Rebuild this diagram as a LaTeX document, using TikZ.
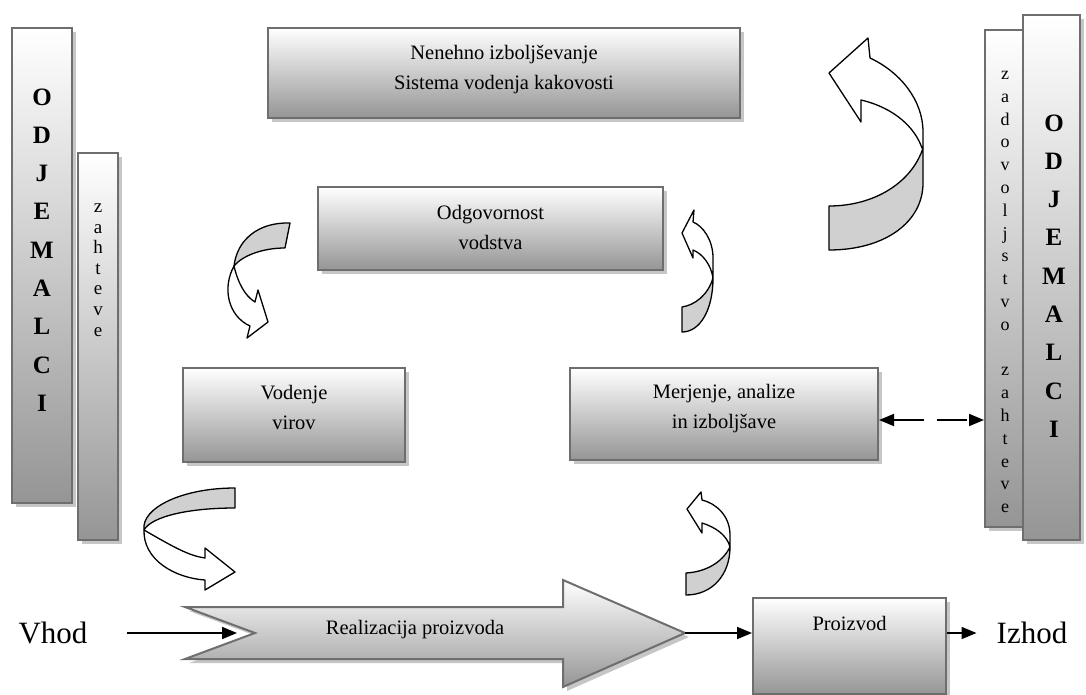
\documentclass[tikz,border=0pt]{standalone}
\usepackage{fontspec}
\setmainfont{Liberation Serif}
\usetikzlibrary{arrows.meta,shadows,calc}
\definecolor{bordergray}{HTML}{6E6E6E}
\definecolor{gradbottom}{HTML}{959595}
\definecolor{shadowgray}{HTML}{C6C6C6}
\definecolor{ribbon}{HTML}{D0D0D0}
\tikzset{
  gshadow/.style={drop shadow={shadow xshift=4pt,shadow yshift=-4pt,fill=shadowgray,opacity=1}},
  gbox/.style={draw=bordergray,line width=2pt,top color=white,bottom color=gradbottom,gshadow,inner sep=0pt},
  lbl/.style={font=\fontsize{20.5}{30}\selectfont,align=center,inner sep=0pt},
  big/.style={font=\fontsize{31}{36}\selectfont,inner sep=0pt},
  vbold/.style={font=\fontsize{25}{38.3}\selectfont\bfseries,align=center,inner sep=0pt},
  vsmall/.style={font=\fontsize{19}{20.6}\selectfont,align=center,inner sep=0pt},
  conn/.style={line width=1.8pt,-{Triangle[length=15pt,width=12pt]}},
  rib/.style={draw=black,line width=1.3pt,line join=round},
  ribgray/.style={rib,fill=ribbon},
  ribwhite/.style={rib,fill=white},
}
\begin{document}
\begin{tikzpicture}[x=1pt,y=-1pt]
\useasboundingbox (0,0) rectangle (1086,695);

% left columns
\node[gbox,minimum width=60pt,minimum height=475pt] (lwide) at (42,265.5) {};
\node[gbox,minimum width=40pt,minimum height=387pt] (lnar) at (98,346.5) {};
\node[vbold] (lodj) at (42,250) {O\\D\\J\\E\\M\\A\\L\\C\\I};
\node[vsmall] (lzah) at (98,270) {z\\a\\h\\t\\e\\v\\e};

% right columns
\node[gbox,minimum width=38pt,minimum height=497pt] (rnar) at (1004,278.5) {};
\node[gbox,minimum width=57pt,minimum height=525pt] (rwide) at (1051.5,277.5) {};
\node[vsmall,font=\fontsize{18}{22.8}\selectfont] (rzad) at (1005,292) {z\\a\\d\\o\\v\\o\\l\\j\\s\\t\\v\\o\\[22.8pt]z\\a\\h\\t\\e\\v\\e};
\node[vbold] (rodj) at (1054,276) {O\\D\\J\\E\\M\\A\\L\\C\\I};

% boxes
\node[gbox,minimum width=472pt,minimum height=90pt] (nen) at (504,73) {};
\node[lbl] (nent) at (504,70) {Nenehno izboljševanje\\Sistema vodenja kakovosti};
\node[gbox,minimum width=345pt,minimum height=83pt] (odg) at (490.5,228.5) {};
\node[lbl] (odgt) at (490.5,227) {Odgovornost\\vodstva};
\node[gbox,minimum width=222pt,minimum height=94pt] (vod) at (294,415) {};
\node[lbl] (vodt) at (294,407) {Vodenje\\virov};
\node[gbox,minimum width=308pt,minimum height=92pt] (merj) at (724,414) {};
\node[lbl] (merjt) at (724,409) {Merjenje, analize\\in izboljšave};
\node[gbox,minimum width=193pt,minimum height=96pt] (proz) at (849.5,646) {};
\node[lbl] (prozt) at (849.5,623) {Proizvod};

% main arrow
\path[draw=bordergray,line width=2pt,top color=white,bottom color=gradbottom,gshadow,line join=miter]
  (185,607) -- (255,633) -- (185,659) -- (563,659) -- (563,687) -- (685,633) -- (563,580) -- (563,607) -- cycle;
\coordinate (notch) at (255,633);
\coordinate (tip) at (685,633);
\node[lbl] (real) at (415,630) {Realizacija proizvoda};

% in / out
\node[big] (vhod) at (53,633) {Vhod};
\node[big] (izhod) at (1032,633) {Izhod};
\draw[conn] ([xshift=39pt]vhod.east) -- ([xshift=-18pt]notch);
\draw[conn] (tip) -- (tip -| proz.west);
\draw[conn] (tip -| proz.east) -- ([xshift=-20pt]izhod.west);
\draw[line width=1.8pt,dash pattern=on 30pt off 13pt,{Triangle[length=15pt,width=12pt]}-{Triangle[length=15pt,width=12pt]}]
  ([yshift=-6pt]merj.east) -- ([yshift=-6pt]merj.east -| rnar.west);

% curved arrow A1 (top right, big)
\path[ribwhite] (922,148) .. controls (915,128) and (895,108) .. (861,100) -- (861,122) -- (829,73) -- (868,38) -- (870,58)
  .. controls (900,72) and (923,100) .. (923,132) -- (923,148) -- cycle;
\path[ribgray] (829,206) -- (829,250) .. controls (885,250) and (923,222) .. (923,183) -- (923,148)
  .. controls (912,182) and (875,206) .. (829,206) -- cycle;

% curved arrow A2 (left of Odgovornost)
\path[ribgray] (290,223) -- (285,248) .. controls (262,248) and (242,256) .. (234,266)
  .. controls (237,240) and (258,222) .. (290,223) -- cycle;
\path[ribwhite] (234,266) .. controls (238,283) and (245,296) .. (255,302) -- (258,290) -- (268,322) -- (247,338) -- (250,326)
  .. controls (228,316) and (222,288) .. (234,266) -- cycle;

% curved arrow A3 (right of Odgovornost)
\path[ribgray] (682,307) -- (682,332) .. controls (700,332) and (713,310) .. (713,278)
  .. controls (708,295) and (695,305) .. (682,307) -- cycle;
\path[ribwhite] (713,278) -- (713,258) .. controls (713,240) and (703,226) .. (693,222) -- (694,210) -- (682,233) -- (693,258) -- (693,250)
  .. controls (703,254) and (711,265) .. (713,278) -- cycle;

% curved arrow A4 (above Proizvod)
\path[ribgray] (686,573) -- (686,595) .. controls (712,595) and (730,575) .. (730,547)
  .. controls (722,563) and (705,572) .. (686,573) -- cycle;
\path[ribwhite] (730,547) -- (730,535) .. controls (730,515) and (715,503) .. (702,500) -- (701,492) -- (687,509) -- (702,533) -- (702,523)
  .. controls (715,527) and (727,535) .. (730,547) -- cycle;

% curved arrow A5 (lower left)
\path[ribgray] (235,488) -- (235,508) .. controls (190,508) and (152,516) .. (144,530)
  .. controls (141,508) and (182,488) .. (235,488) -- cycle;
\path[ribwhite] (144,530) .. controls (175,548) and (190,556) .. (205,558) -- (205,548) -- (235,572) -- (205,590) -- (205,580)
  .. controls (175,578) and (143,560) .. (144,530) -- cycle;
\end{tikzpicture}
\end{document}
